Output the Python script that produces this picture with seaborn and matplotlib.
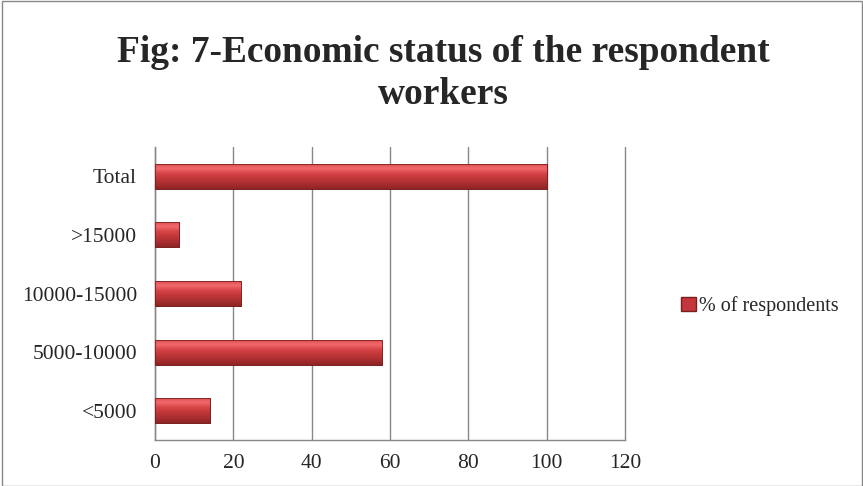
import matplotlib
matplotlib.use("Agg")
import matplotlib.pyplot as plt
import seaborn as sns
import pandas as pd
import numpy as np
from matplotlib.patches import Patch, Rectangle
from matplotlib.colors import LinearSegmentedColormap

categories = ["Total", ">15000", "10000-15000", "5000-10000", "<5000"]
values = [100, 6, 22, 58, 14]
series_name = "% of respondents"
x_ticks = [0, 20, 40, 60, 80, 100, 120]

df = pd.DataFrame({"category": categories, "value": values})

sns.set_style("white")
plt.rcParams["font.family"] = ["Liberation Serif", "DejaVu Serif"]

fig = plt.figure(figsize=(8.63, 4.86), dpi=100)
ax = fig.add_axes([155/863, 1-440/486, (625-155)/863, (440-147)/486])

bar_color = "#C4373A"
sns.barplot(data=df, x="value", y="category", order=categories, color=bar_color,
            width=0.43, edgecolor="#7A1F1F", linewidth=0.6, saturation=1, ax=ax, zorder=3)

# vertical gradient shading on each bar (clipped to the bar patch)
cmap = LinearSegmentedColormap.from_list(
    "bevel", ["#D9484A", "#F26A6C", "#D64446", "#C03638", "#A82E30", "#8E2426"])
grad = np.linspace(0, 1, 64).reshape(-1, 1)
for p in list(ax.patches):
    x0, y0 = p.get_x(), p.get_y()
    w, h = p.get_width(), p.get_height()
    im = ax.imshow(grad, cmap=cmap, aspect="auto", extent=(x0, x0 + w, y0 + h, y0),
                   zorder=3.5, interpolation="bicubic")
    im.set_clip_path(p)
    ax.add_patch(Rectangle((x0, y0), w, h, fill=False, edgecolor="#7A1F1F",
                           linewidth=0.6, zorder=4))

ax.set_xlim(0, 120)
ax.set_xticks(x_ticks)
ax.set_xticklabels([str(t) for t in x_ticks], fontsize=15.5)
ax.set_ylim(len(categories) - 0.5, -0.5)
ax.set_yticks(range(len(categories)))
ax.set_yticklabels(categories, fontsize=15.5)
ax.tick_params(axis="y", which="major", length=0, pad=13)
ax.set_yticks(np.arange(-0.5, len(categories), 1.0), minor=True)
ax.tick_params(axis="y", which="minor", length=5, color="#888888", width=1, direction="out")
ax.tick_params(axis="x", which="major", length=5, color="#888888", width=1, direction="out", pad=5)
ax.set_xlabel("")
ax.set_ylabel("")
ax.grid(axis="x", color="#888888", linewidth=1, zorder=0)
ax.grid(axis="y", visible=False)
for gl in ax.get_xgridlines():
    gl.set_clip_on(False)
ax.set_axisbelow(True)
for s in ["top", "right"]:
    ax.spines[s].set_visible(False)
for s in ["left", "bottom"]:
    ax.spines[s].set_color("#888888")
    ax.spines[s].set_linewidth(1)

fig.text(443/863, 1-53/486, "Fig: 7-Economic status of the respondent", ha="center", va="center",
         fontsize=26.9, fontweight="bold")
fig.text(443/863, 1-94/486, "workers", ha="center", va="center",
         fontsize=26.9, fontweight="bold")

handle = Patch(facecolor=bar_color, edgecolor="#7A1F1F")
fig.legend(handles=[handle], labels=[series_name], loc="center left",
           bbox_to_anchor=(681/863, 1-306/486), frameon=False, fontsize=14.5,
           handlelength=0.75, handleheight=0.75, handletextpad=0.15, borderpad=0, borderaxespad=0)

fig.patches.append(Rectangle((0.002, 0.001), 0.997, 0.997, transform=fig.transFigure,
                             fill=False, edgecolor="#888888", linewidth=1))

fig.savefig("out.png", dpi=100)
